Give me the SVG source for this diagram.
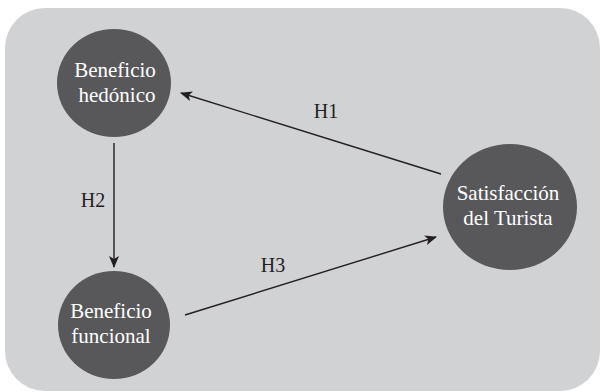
<svg xmlns="http://www.w3.org/2000/svg" width="602" height="392" viewBox="0 0 602 392">
<style>
.node{fill:#58585a}
.lbl{font-family:"Liberation Serif","Times New Roman",serif;font-size:21px;fill:#ffffff;text-anchor:middle}
.hl{font-family:"Liberation Serif","Times New Roman",serif;font-size:20px;fill:#231f20;text-anchor:middle}
.edge{stroke:#231f20;stroke-width:1.4;fill:none;marker-end:url(#ah)}
</style>
<defs>
<marker id="ah" viewBox="0 0 12 10" refX="11" refY="5" markerWidth="12" markerHeight="10" markerUnits="userSpaceOnUse" orient="auto">
<path d="M0,0 L12,5 L0,10 L3,5 Z" fill="#231f20"/>
</marker>
</defs>
<rect x="5" y="8" width="595" height="383" rx="40" ry="40" fill="#d1d2d4"/>
<g id="connectors">
<line class="edge" x1="441" y1="174" x2="181" y2="93"/>
<line class="edge" x1="114" y1="143" x2="114" y2="267"/>
<line class="edge" x1="185" y1="315" x2="436" y2="237"/>
<text class="hl" x="326" y="118">H1</text>
<text class="hl" x="93" y="207">H2</text>
<text class="hl" x="273" y="272">H3</text>
</g>
<g id="hedonico">
<ellipse class="node" cx="114" cy="83" rx="57" ry="54"/>
<text class="lbl" x="115" y="77">Beneficio</text>
<text class="lbl" x="117" y="102">hedónico</text>
</g>
<g id="funcional">
<ellipse class="node" cx="114" cy="325" rx="56" ry="54"/>
<text class="lbl" x="111" y="318">Beneficio</text>
<text class="lbl" x="111" y="343">funcional</text>
</g>
<g id="satisfaccion">
<ellipse class="node" cx="510" cy="207" rx="67" ry="63"/>
<text class="lbl" x="508" y="200">Satisfacción</text>
<text class="lbl" x="508" y="225">del Turista</text>
</g>
</svg>
